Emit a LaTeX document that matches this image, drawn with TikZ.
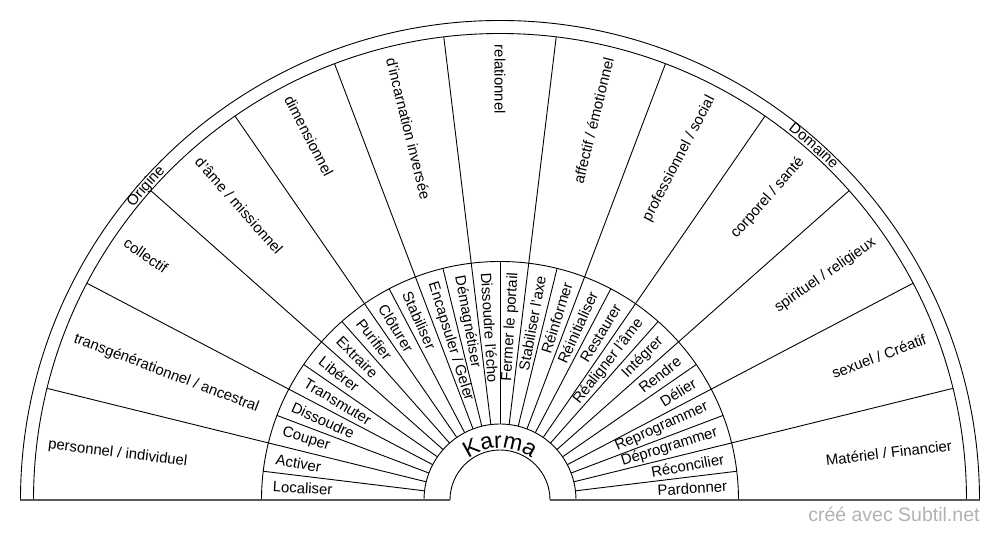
\documentclass[tikz,border=0pt]{standalone}
\usepackage{fontspec}
\setmainfont{Liberation Sans}
\usetikzlibrary{decorations.text}

\begin{document}
\begin{tikzpicture}[x=1pt, y=1pt, line width=0.9pt,
  readIn/.style={anchor=west, inner sep=2pt, font=\fontsize{14.9}{17}\selectfont},
  readOut/.style={anchor=east, inner sep=2pt, font=\fontsize{14.9}{17}\selectfont}]
\useasboundingbox (-500,-40) rectangle (500,500);

% rings
\draw (-479.5,0) arc[start angle=180, end angle=0, radius=479.5];
\draw (-466.5,0) arc[start angle=180, end angle=0, radius=466.5];
\draw (-238.5,0) arc[start angle=180, end angle=0, radius=238.5];
\draw (-76,0) arc[start angle=180, end angle=0, radius=76];
\draw (-50,0) arc[start angle=180, end angle=0, radius=50];
\draw[black!65, line width=1.5pt] (-479.5,0) -- (-50,0);
\draw[black!65, line width=1.5pt] (50,0) -- (479.5,0);

% spokes
\foreach \k in {1,...,12}
  \draw ({\k*180/13}:238.5) -- ({\k*180/13}:466.5);
\foreach \k in {1,...,25}
  \draw ({\k*180/26}:76) -- ({\k*180/26}:238.5);

% ring titles
\path[decorate, decoration={text along path, text align=center,
  text={|\fontsize{14.9}{17}\selectfont|Origine}}]
  (150.46:469) arc[start angle=150.46, end angle=126.46, radius=469];
\path[decorate, decoration={text along path, text align=center,
  text={|\fontsize{14.9}{17}\selectfont|Domaine}}]
  (60.46:469) arc[start angle=60.46, end angle=36.46, radius=469];
\path[decorate, decoration={text along path, text align=center,
  text={|\fontsize{23}{27}\selectfont|Karma}}]
  (150:52) arc[start angle=150, end angle=30, radius=52];

% domains
\node[readIn, rotate=-6.92] (dom1) at (173.08:457.5) {personnel / individuel};
\node[readIn, rotate=-20.77] (dom2) at (159.23:457.5) {transgénérationnel / ancestral};
\node[readIn, rotate=-34.62] (dom3) at (145.38:457.5) {collectif};
\node[readIn, rotate=-48.46] (dom4) at (131.54:457.5) {d'âme / missionnel};
\node[readIn, rotate=-62.31] (dom5) at (117.69:457.5) {dimensionnel};
\node[readIn, rotate=-76.15] (dom6) at (103.85:457.5) {d'incarnation inversée};
\node[readIn, rotate=-90] (dom7) at (90:457.5) {relationnel};
\node[readOut, rotate=76.15] (dom8) at (76.15:457.5) {affectif / émotionnel};
\node[readOut, rotate=62.31] (dom9) at (62.31:457.5) {professionnel / social};
\node[readOut, rotate=48.46] (dom10) at (48.46:457.5) {corporel / santé};
\node[readOut, rotate=34.62] (dom11) at (34.62:457.5) {spirituel / religieux};
\node[readOut, rotate=20.77] (dom12) at (20.77:457.5) {sexuel / Créatif};
\node[readOut, rotate=6.92] (dom13) at (6.92:457.5) {Matériel / Financier};

% actions
\node[readIn, rotate=-3.46] (act1) at (176.54:230) {Localiser};
\node[readIn, rotate=-10.38] (act2) at (169.62:230) {Activer};
\node[readIn, rotate=-17.31] (act3) at (162.69:230) {Couper};
\node[readIn, rotate=-24.23] (act4) at (155.77:230) {Dissoudre};
\node[readIn, rotate=-31.15] (act5) at (148.85:230) {Transmuter};
\node[readIn, rotate=-38.08] (act6) at (141.92:230) {Libérer};
\node[readIn, rotate=-45] (act7) at (135:230) {Extraire};
\node[readIn, rotate=-51.92] (act8) at (128.08:230) {Purifier};
\node[readIn, rotate=-58.85] (act9) at (121.15:230) {Clôturer};
\node[readIn, rotate=-65.77] (act10) at (114.23:230) {Stabiliser};
\node[readIn, rotate=-72.69] (act11) at (107.31:230) {Encapsuler / Geler};
\node[readIn, rotate=-79.62] (act12) at (100.38:230) {Démagnétiser};
\node[readIn, rotate=-86.54] (act13) at (93.46:230) {Dissoudre l'écho};
\node[readOut, rotate=86.54] (act14) at (86.54:230) {Fermer le portail};
\node[readOut, rotate=79.62] (act15) at (79.62:230) {Stabiliser l'axe};
\node[readOut, rotate=72.69] (act16) at (72.69:230) {Réinformer};
\node[readOut, rotate=65.77] (act17) at (65.77:230) {Réinitialiser};
\node[readOut, rotate=58.85] (act18) at (58.85:230) {Restaurer};
\node[readOut, rotate=51.92] (act19) at (51.92:230) {Réaligner l'âme};
\node[readOut, rotate=45] (act20) at (45:230) {Intégrer};
\node[readOut, rotate=38.08] (act21) at (38.08:230) {Rendre};
\node[readOut, rotate=31.15] (act22) at (31.15:230) {Délier};
\node[readOut, rotate=24.23] (act23) at (24.23:230) {Reprogrammer};
\node[readOut, rotate=17.31] (act24) at (17.31:230) {Déprogrammer};
\node[readOut, rotate=10.38] (act25) at (10.38:230) {Réconcilier};
\node[readOut, rotate=3.46] (act26) at (3.46:230) {Pardonner};

\node[anchor=base east, inner sep=0pt, black!30, font=\fontsize{19.5}{22}\selectfont] (credit) at (480,-21.7) {créé avec Subtil.net};
\end{tikzpicture}
\end{document}
